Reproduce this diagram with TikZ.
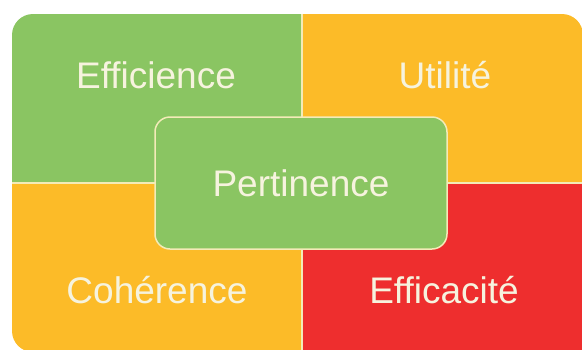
\documentclass[tikz,border=0pt]{standalone}
\usepackage{fontspec}
\setmainfont{Liberation Sans}
\definecolor{quadgreen}{HTML}{8AC562}
\definecolor{quadyellow}{HTML}{FCBB28}
\definecolor{quadred}{HTML}{EE2E2E}
\definecolor{linecream}{HTML}{F3EBB8}
\definecolor{textcream}{HTML}{F6F3DE}

\tikzset{
  label/.style={text=textcream, font=\fontsize{37}{42}\selectfont},
  centerbox/.style={label, fill=quadgreen, draw=linecream, line width=1.5pt,
    rounded corners=15pt, minimum width=292pt, minimum height=132pt},
  divider/.style={linecream, line width=1.5pt}
}

\begin{document}
\begin{tikzpicture}[x=1pt, y=-1pt]
  \useasboundingbox (0,0) rectangle (582,349);
  \begin{scope}
    % rounded outline, bottom right corner cut off by the page
    \clip[rounded corners=21pt] (12,14) rectangle (583,352)
      [sharp corners] (302,183) rectangle (600,370);
    \fill[quadgreen]  (12,14)   rectangle (302,183);
    \fill[quadyellow] (302,14)  rectangle (600,183);
    \fill[quadyellow] (12,183)  rectangle (302,370);
    \fill[quadred]    (302,183) rectangle (600,370);
    \draw[divider] (302,14) -- (302,370);
    \draw[divider] (12,183) -- (600,183);
  \end{scope}
  \node[label] (efficience) at (156,75)  {Efficience};
  \node[label] (utilite)    at (445,75)  {Utilité};
  \node[label] (coherence)  at (157,290) {Cohérence};
  \node[label] (efficacite) at (444,290) {Efficacité};
  \node[centerbox] (pertinence) at (301,183) {Pertinence};
\end{tikzpicture}
\end{document}
